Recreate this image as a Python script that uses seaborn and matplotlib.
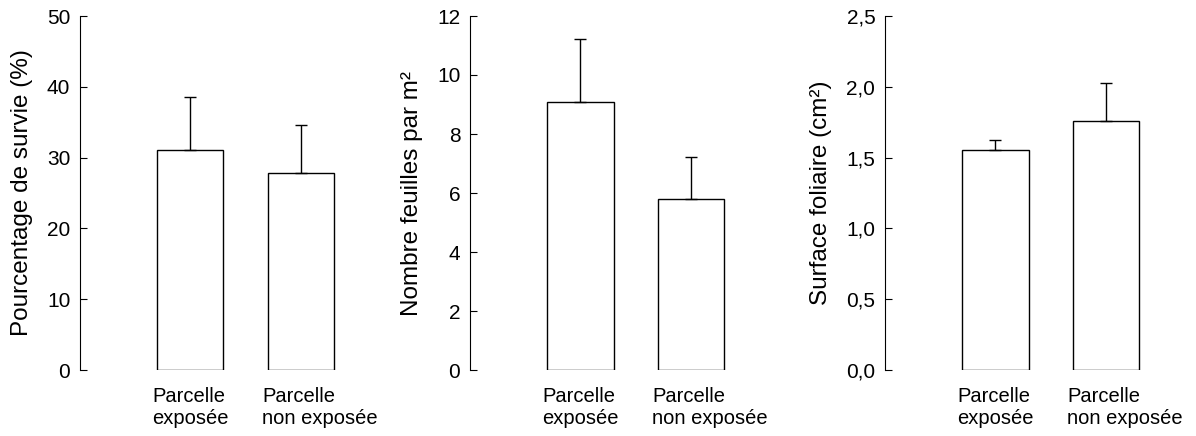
import matplotlib
matplotlib.use('Agg')
import matplotlib.pyplot as plt
import matplotlib.transforms as mtransforms
import seaborn as sns
import pandas as pd

# Données
parcelles = ['Parcelle\nexposée', 'Parcelle\nnon exposée']
survie = [31.1, 27.8]
survie_err = [7.4, 6.8]
feuilles = [9.07, 5.8]
feuilles_err = [2.16, 1.43]
surface = [1.553, 1.757]
surface_err = [0.07, 0.268]

ylabels = ['Pourcentage de survie (%)', 'Nombre feuilles par m²', 'Surface foliaire (cm²)']
ylims = [50, 12, 2.5]
yticks = [[0, 10, 20, 30, 40, 50],
          [0, 2, 4, 6, 8, 10, 12],
          [0.0, 0.5, 1.0, 1.5, 2.0, 2.5]]
ytick_labels = [[str(t) for t in yticks[0]],
                [str(t) for t in yticks[1]],
                [f'{t:.1f}'.replace('.', ',') for t in yticks[2]]]

sns.set_style('white', {'text.color': 'black', 'axes.labelcolor': 'black',
                        'xtick.color': 'black', 'ytick.color': 'black',
                        'axes.edgecolor': 'black'})
plt.rcParams['font.family'] = ['Liberation Sans', 'DejaVu Sans']

fig = plt.figure(figsize=(11.96, 4.36), dpi=100)
lefts = [80 / 1196, 470 / 1196, 885 / 1196]
bottom = 1 - 370 / 436
height = (370 - 16) / 436
width = 287 / 1196

series = [(survie, survie_err), (feuilles, feuilles_err), (surface, surface_err)]
# décalage des étiquettes : alignées à gauche, un peu avant le bord de la barre
shift = mtransforms.ScaledTranslation(-38.5 / 100, 0, fig.dpi_scale_trans)

for i, (vals, errs) in enumerate(series):
    ax = fig.add_axes([lefts[i], bottom, width, height])
    df = pd.DataFrame({'parcelle': parcelles, 'valeur': vals})
    sns.barplot(data=df, x='parcelle', y='valeur', ax=ax, color='white',
                edgecolor='black', linewidth=1, width=0.6, saturation=1,
                errorbar=None)
    ax.errorbar(x=range(len(vals)), y=vals, yerr=[[0] * len(errs), errs],
                fmt='none', ecolor='black', elinewidth=1, capsize=4.5,
                capthick=1, zorder=1)
    ax.set_xlim(-1, 1.6)
    ax.set_ylim(0, ylims[i])
    ax.set_yticks(yticks[i])
    ax.set_yticklabels(ytick_labels[i])
    ax.set_xlabel('')
    ax.set_ylabel(ylabels[i], fontsize=17.5, labelpad=10)
    for s in ['top', 'right', 'bottom']:
        ax.spines[s].set_visible(False)
    ax.spines['left'].set_linewidth(0.8)
    ax.tick_params(axis='y', direction='in', length=5, width=0.8,
                   labelsize=15, pad=7, left=True)
    ax.tick_params(axis='x', length=0, labelsize=14.5, pad=12)
    for lab in ax.get_xticklabels():
        lab.set_horizontalalignment('left')
        lab.set_multialignment('left')
        lab.set_transform(lab.get_transform() + shift)

plt.savefig('out.png', dpi=100)
